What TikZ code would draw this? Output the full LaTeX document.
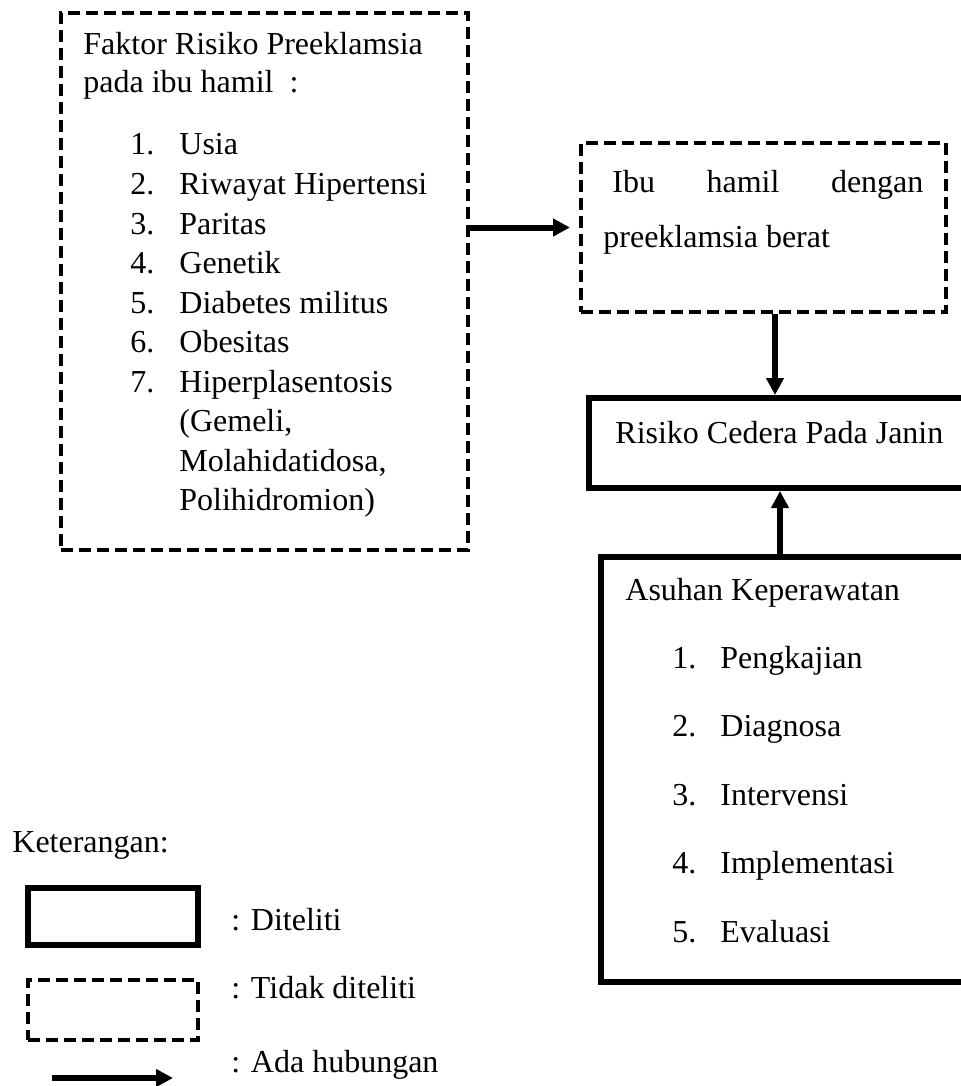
\documentclass[tikz,border=0pt]{standalone}
\usepackage{fontspec}
\setmainfont{Liberation Serif}
\usetikzlibrary{arrows.meta}

\tikzset{
  diteliti/.style={draw, line width=3pt, inner sep=0pt},
  tdkditeliti/.style={draw, line width=2pt, dash pattern=on 6pt off 3pt, inner sep=0pt},
  hub/.style={line width=3pt, -{Triangle[length=8.5pt,width=8.5pt]}},
  teks/.style={anchor=base west, inner sep=0pt, font=\fontsize{16}{19}\selectfont}
}

\begin{document}
\begin{tikzpicture}[x=0.5pt,y=-0.5pt]
    \useasboundingbox (0,0) rectangle (961,1086);
    \node [tdkditeliti, minimum width=203.5pt, minimum height=268.5pt] (faktor) at (264.5,281.5) {};
    \node [tdkditeliti, minimum width=182.5pt, minimum height=84.5pt] (ibu) at (763.5,227.5) {};
    \node [diteliti, minimum width=205.5pt, minimum height=45pt] (risiko) at (794.5,443) {};
    \node [diteliti, minimum width=199.5pt, minimum height=212.5pt] (asuhan) at (800.5,769.5) {};
    \node [teks] (fjudul) at (83,55) {Faktor Risiko Preeklamsia};
    \node [teks] (fsub) at (83,93) {pada ibu hamil\hspace{8pt}:};
    \foreach \n/\t in {1/Usia,2/Riwayat Hipertensi,3/Paritas,4/Genetik,
      5/Diabetes militus,6/Obesitas,7/Hiperplasentosis}
    {
      \node [teks] (fno\n) at (130,{155+39.5*(\n-1)}) {\n.};
      \node [teks] (fitem\n) at (179,{155+39.5*(\n-1)}) {\t};
    }
    \node [teks] (fgem) at (179,431.5) {(Gemeli,};
    \node [teks] (fmola) at (179,471) {Molahidatidosa,};
    \node [teks] (fpoli) at (179,510.5) {Polihidromion)};
    \node [teks] (ibu1) at (612,192) {\makebox[155.5pt][s]{Ibu hamil dengan}};
    \node [teks] (ibu2) at (603,247) {preeklamsia berat};
    \node [teks] (risikotxt) at (615,443) {Risiko Cedera Pada Janin};
    \node [teks] (ajudul) at (625,600) {Asuhan Keperawatan};
    \foreach \n/\t in {1/Pengkajian,2/Diagnosa,3/Intervensi,4/Implementasi,5/Evaluasi}
    {
      \node [teks] (ano\n) at (672,{668+68.5*(\n-1)}) {\n.};
      \node [teks] (aitem\n) at (720,{668+68.5*(\n-1)}) {\t};
    }
    \coordinate (kolA) at (775,0);
    \coordinate (kolB) at (780,0);
    \draw [hub, shorten >=4.5pt] (faktor.east |- ibu.west) -- (ibu.west);
    \draw [hub] (ibu.south -| kolA) -- (risiko.north -| kolA);
    \draw [hub] (asuhan.north -| kolB) -- (risiko.south -| kolB);
    \node [teks] (ket) at (12,852) {Keterangan:};
    \node [diteliti, minimum width=85pt, minimum height=28.5pt] (lgdtel) at (113,916.5) {};
    \node [tdkditeliti, minimum width=85pt, minimum height=30pt] (lgdtdk) at (113,1010) {};
    \coordinate (panahA) at (52,1078);
    \coordinate (panahB) at (173,1078);
    \draw [hub] (panahA) -- (panahB);
    \node [teks] (kettel) at (231,930) {: Diteliti};
    \node [teks] (kettdk) at (231,998) {: Tidak diteliti};
    \node [teks] (kethub) at (231,1072) {: Ada hubungan};
\end{tikzpicture}
\end{document}
